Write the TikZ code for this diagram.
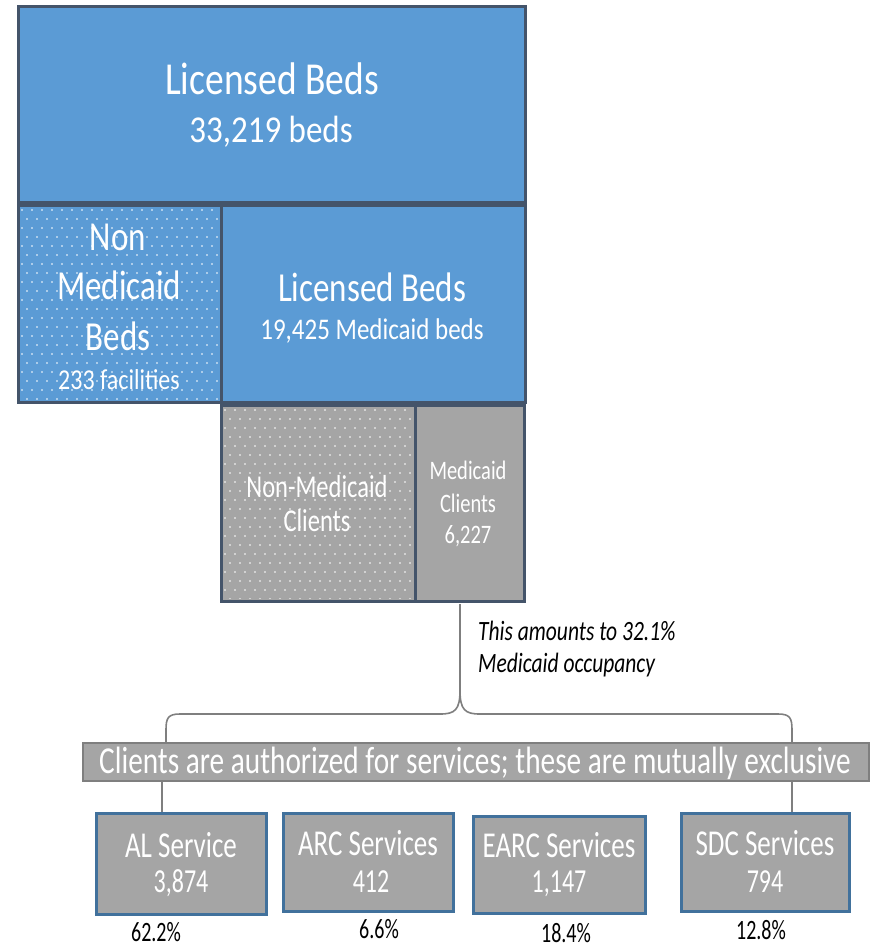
\documentclass[tikz,border=0pt]{standalone}
\usepackage{fontspec}
\setmainfont{Carlito}
\usepackage{graphicx}
\definecolor{bblue}{HTML}{5B9BD5}
\definecolor{slate}{HTML}{44546A}
\definecolor{ggray}{HTML}{A5A5A5}
\definecolor{sblue}{HTML}{41719C}
\definecolor{lgray}{HTML}{7F7F7F}
\newcommand{\vs}[2][1.25]{\scalebox{1}[#1]{#2}}
\newcommand{\fs}[1]{\fontsize{#1}{#1}\selectfont}
\newcommand{\dotpat}[4]{%
  \begin{scope}
    \clip (#1,#2) rectangle (#3,#4);
    \foreach \j in {0,...,23}{
      \foreach \i in {0,...,21}{
        \pgfmathsetmacro\xx{#1+3+\i*10+mod(\j,2)*5}
        \pgfmathsetmacro\yy{#2+4+\j*9}
        \fill[white] (\xx,\yy) circle (0.8pt);
      }}
  \end{scope}}
\tikzset{
  bigbox/.style={draw=slate, line width=3pt, inner sep=0pt, anchor=north west},
  bluebox/.style={bigbox, fill=bblue},
  graybox/.style={bigbox, fill=ggray},
  svcbox/.style={draw=sblue, line width=3pt, fill=ggray, inner sep=0pt, anchor=north west},
  banner/.style={draw=lgray, line width=2pt, fill=ggray, inner sep=0pt, anchor=north west},
  wtxt/.style={text=white, inner sep=0pt, anchor=center},
  btxt/.style={text=black, inner sep=0pt, anchor=center},
  brace/.style={draw=lgray, line width=1.6pt}
}
\begin{document}
\begin{tikzpicture}[x=1pt,y=-1pt]
\useasboundingbox (0,0) rectangle (872,948);
% boxes
\node[bluebox, minimum width=507pt, minimum height=196pt] (top) at (17,5) {};
\node[bluebox, minimum width=203pt, minimum height=197pt] (nmb) at (17,204) {};
\node[bluebox, minimum width=304pt, minimum height=197pt] (lb2) at (220,204) {};
\node[graybox, minimum width=194pt, minimum height=196pt] (nmc) at (220,404) {};
\node[graybox, minimum width=109pt, minimum height=196pt] (mc) at (414,404) {};
\dotpat{19}{206}{218.5}{399.5}
\dotpat{222}{406}{412.5}{598}
% texts in top boxes
\node[wtxt, font=\fs{37.5}] (t1) at (272,79) {\vs[1.22]{Licensed Beds}};
\node[wtxt, font=\fs{33}] (t2) at (271,132) {\vs[1.15]{33,219 beds}};
\node[wtxt, font=\fs{33}] (n1) at (118,237) {\vs{Non}};
\node[wtxt, font=\fs{33}] (n2) at (119,285) {\vs{Medicaid}};
\node[wtxt, font=\fs{33}] (n3) at (118,336) {\vs{Beds}};
\node[wtxt, font=\fs{24}] (n4) at (119,380) {\vs[1.2]{233 facilities}};
\node[wtxt, font=\fs{33}] (l1) at (372,287) {\vs{Licensed Beds}};
\node[wtxt, font=\fs{25}] (l2) at (372,331) {\vs[1.2]{19,425 Medicaid beds}};
\node[wtxt, font=\fs{24.5}] (c1) at (317,487) {\vs[1.3]{Non-Medicaid}};
\node[wtxt, font=\fs{24.5}] (c2) at (317,521) {\vs[1.3]{Clients}};
\node[wtxt, font=\fs{20.5}] (m1) at (468,470) {\vs[1.3]{Medicaid}};
\node[wtxt, font=\fs{20.5}] (m2) at (468,503) {\vs[1.3]{Clients}};
\node[wtxt, font=\fs{20.5}] (m3) at (468,536) {\vs[1.3]{6,227}};
% note
\node[btxt, anchor=west, font=\fs{21.5}\itshape] (note1) at (478,631) {\vs[1.3]{This amounts to 32.1\%}};
\node[btxt, anchor=west, font=\fs{21.5}\itshape] (note2) at (478,665) {\vs[1.3]{Medicaid occupancy}};
% banner
\node[banner, minimum width=786pt, minimum height=38pt] (ban) at (82,742) {};
\node[wtxt, font=\fs{29.3}] (bantxt) at (475,763) {\vs[1.3]{Clients are authorized for services; these are mutually exclusive}};
% service boxes
\node[svcbox, minimum width=170pt, minimum height=101pt] (al) at (95,812) {};
\node[svcbox, minimum width=170pt, minimum height=98pt] (arc) at (282,812) {};
\node[svcbox, minimum width=172pt, minimum height=97pt] (earc) at (472,815) {};
\node[svcbox, minimum width=168pt, minimum height=98pt] (sdc) at (680,812) {};
\node[wtxt, font=\fs{27}] (al1) at (181,845) {\vs[1.35]{AL Service}};
\node[wtxt, font=\fs{24}] (al2) at (181,883) {\vs[1.4]{3,874}};
\node[wtxt, font=\fs{27}] (arc1) at (368,843) {\vs[1.35]{ARC Services}};
\node[wtxt, font=\fs{24}] (arc2) at (371,882) {\vs[1.4]{412}};
\node[wtxt, font=\fs{27}] (earc1) at (559,845) {\vs[1.35]{EARC Services}};
\node[wtxt, font=\fs{24}] (earc2) at (559,884) {\vs[1.4]{1,147}};
\node[wtxt, font=\fs{27}] (sdc1) at (765,843) {\vs[1.35]{SDC Services}};
\node[wtxt, font=\fs{24}] (sdc2) at (765,882) {\vs[1.4]{794}};
% percentages
\node[btxt, font=\fs{20}] (p1) at (156,932) {\vs[1.4]{62.2\%}};
\node[btxt, font=\fs{20}] (p2) at (379,929) {\vs[1.4]{6.6\%}};
\node[btxt, font=\fs{20}] (p3) at (566,933) {\vs[1.4]{18.4\%}};
\node[btxt, font=\fs{20}] (p4) at (761,930) {\vs[1.4]{12.8\%}};
% brace
\coordinate (tip) at (460,690);
\coordinate (ltop) at (166,742);
\coordinate (rtop) at (792,742);
\draw[brace] (460,604) -- (tip);
\draw[brace] (tip) .. controls (460,710) and (455,714) .. (440,714) -- (180,714) .. controls (168,714) and (166,718) .. (166,730) -- (ltop);
\draw[brace] (tip) .. controls (460,710) and (465,714) .. (480,714) -- (778,714) .. controls (790,714) and (792,718) .. (792,730) -- (rtop);
\draw[brace] (162,781) -- (al.north -| 162,0);
\draw[brace] (792,781) -- (sdc.north -| 792,0);
\end{tikzpicture}
\end{document}
